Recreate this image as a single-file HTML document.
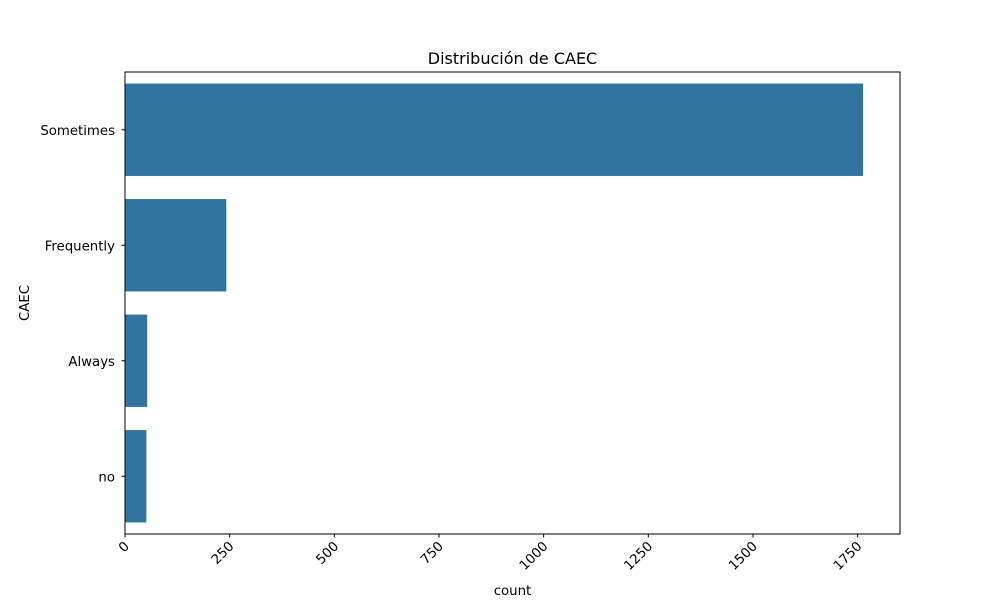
<!DOCTYPE html>
<html><head><meta charset="utf-8"><style>
body{margin:0;background:#fff}
text{font-family:"DejaVu Sans","Liberation Sans",sans-serif;fill:#000}
</style></head><body>
<svg id="chart" width="1000" height="600" xmlns="http://www.w3.org/2000/svg">
<text x="512.5" y="64" text-anchor="middle" font-size="16">Distribución de CAEC</text>
<g id="bars"></g>
<rect x="125" y="72" width="775" height="462" fill="none" stroke="#000" stroke-width="1"/>
<g id="xticks"></g><g id="yticks"></g>
<text x="512.5" y="595" text-anchor="middle" font-size="13.3">count</text>
<text x="29" y="303" text-anchor="middle" font-size="13.3" transform="rotate(-90 29 303)">CAEC</text>
</svg>
<script>
const categories=["Sometimes","Frequently","Always","no"];
const counts=[1763,242,53,51];
const xTicks=[0,250,500,750,1000,1250,1500,1750];
const NS="http://www.w3.org/2000/svg";
const L=125,R=900,T=72,B=534;
const xMax=Math.max(...counts)*1.05;
const x=v=>L+(v/xMax)*(R-L);
const band=(B-T)/categories.length;
const yc=i=>T+band*(i+0.5);
function mk(tag,attrs,parent){const e=document.createElementNS(NS,tag);for(const k in attrs)e.setAttribute(k,attrs[k]);parent.appendChild(e);return e;}
const gb=document.getElementById('bars'),gx=document.getElementById('xticks'),gy=document.getElementById('yticks');
categories.forEach((c,i)=>{
 const r=mk('rect',{x:L,y:yc(i)-band*0.4,width:x(counts[i])-L,height:band*0.8,fill:'#3274a1'},gb);
 
 
 mk('line',{x1:L-3.5,x2:L,y1:yc(i),y2:yc(i),stroke:'#000'},gy);
 const t=mk('text',{x:L-10,y:yc(i)+5,'text-anchor':'end','font-size':13.3},gy);
 t.textContent=c;
 
 
});
xTicks.forEach(v=>{
 const px=x(v);
 mk('line',{x1:px,x2:px,y1:B,y2:B+3.5,stroke:'#000'},gx);
 const t=mk('text',{x:px+5,y:B+13,'text-anchor':'end','font-size':13.3,transform:`rotate(-45 ${px+5} ${B+13})`},gx);
 t.textContent=v;
 
 
});
</script>
</body></html>
